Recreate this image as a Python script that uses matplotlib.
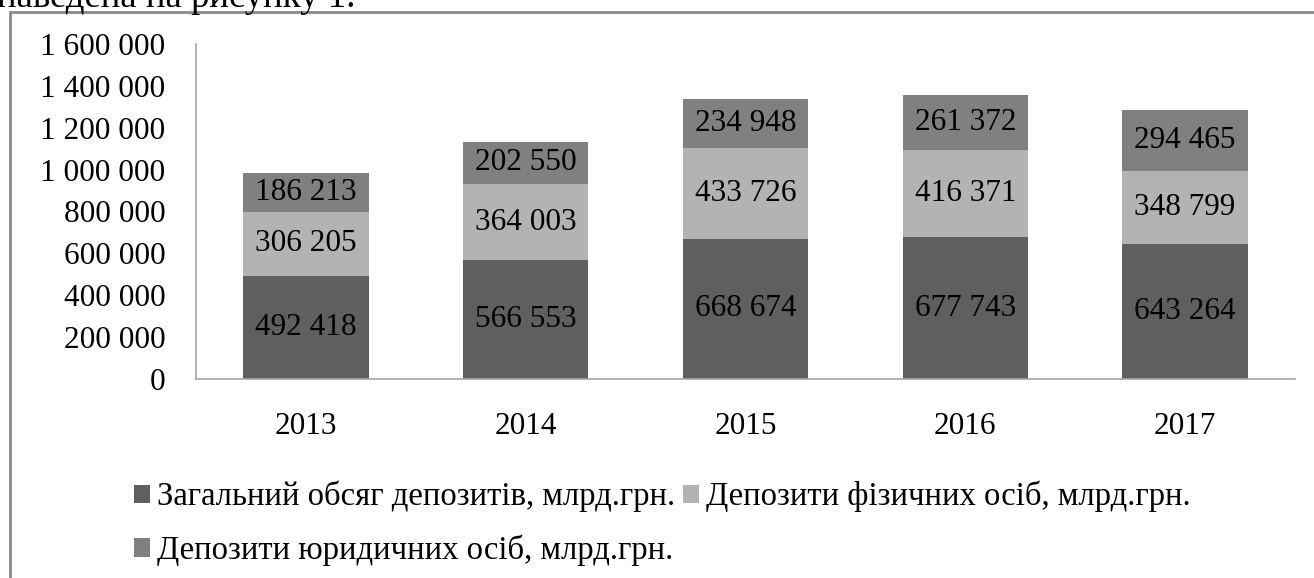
import numpy as np
import matplotlib
matplotlib.use("Agg")
import matplotlib.pyplot as plt
from matplotlib.patches import Rectangle
from matplotlib.ticker import FuncFormatter

plt.rcParams["font.family"] = ["Liberation Serif", "DejaVu Serif"]

# дані
years = ["2013", "2014", "2015", "2016", "2017"]
total = [492418, 566553, 668674, 677743, 643264]
fiz = [306205, 364003, 433726, 416371, 348799]
yur = [186213, 202550, 234948, 261372, 294465]
labels = ["Загальний обсяг депозитів, млрд.грн.",
          "Депозити фізичних осіб, млрд.грн.",
          "Депозити юридичних осіб, млрд.грн."]
colors = ["#5f5f5f", "#b3b3b3", "#808080"]

def fmt(v):
    return "{:,}".format(int(v)).replace(",", " ")

fig = plt.figure(figsize=(13.14, 5.78), dpi=100)
ax = fig.add_axes([196 / 1314, 1 - 379 / 578, (1295 - 196) / 1314, (379 - 44) / 578])

x = np.arange(len(years))
bottom = np.zeros(len(years))
handles = []
for vals, col, lab in zip([total, fiz, yur], colors, labels):
    bars = ax.bar(x, vals, width=0.57, bottom=bottom, color=col, label=lab)
    handles.append(bars)
    for xi, b, v in zip(x, bottom, vals):
        ax.text(xi, b + v / 2, fmt(v), ha="center", va="center", fontsize=22.5, color="black")
    bottom = bottom + np.array(vals)

ax.set_xlim(-0.5, len(years) - 0.5)
ax.set_ylim(0, 1600000)
ax.set_yticks(np.arange(0, 1600001, 200000))
ax.yaxis.set_major_formatter(FuncFormatter(lambda v, p: fmt(v)))
ax.set_xticks(x)
ax.set_xticklabels(years)
ax.tick_params(axis="both", length=0, labelsize=22.5, colors="black")
ax.tick_params(axis="y", pad=22)
ax.tick_params(axis="x", pad=24)
for s in ["top", "right"]:
    ax.spines[s].set_visible(False)
for s in ["left", "bottom"]:
    ax.spines[s].set_color("#a6a6a6")
    ax.spines[s].set_linewidth(1.2)

# легенда: рядок 1 - два елементи, рядок 2 - третій
leg = fig.legend([handles[0], handles[2], handles[1]],
                 [labels[0], labels[2], labels[1]],
                 ncol=2, loc="upper left", bbox_to_anchor=(134 / 1314, 1 - 481 / 578),
                 frameon=False, fontsize=23.5, handlelength=0.5, handleheight=0.5,
                 handletextpad=0.2, columnspacing=0.25, labelspacing=0.68,
                 borderpad=0, borderaxespad=0)

# рамка діаграми та текст зверху
fig.patches.append(Rectangle((10 / 1314, -0.1), 1.2, 1.1 - 12 / 578,
                             transform=fig.transFigure, fill=False,
                             edgecolor="#8a8a8a", linewidth=2))
fig.text(-0.002, 1 - 7 / 578, "наведена на рисунку 1.", fontsize=26.5, va="baseline", ha="left")

fig.savefig("out.png", dpi=100)
